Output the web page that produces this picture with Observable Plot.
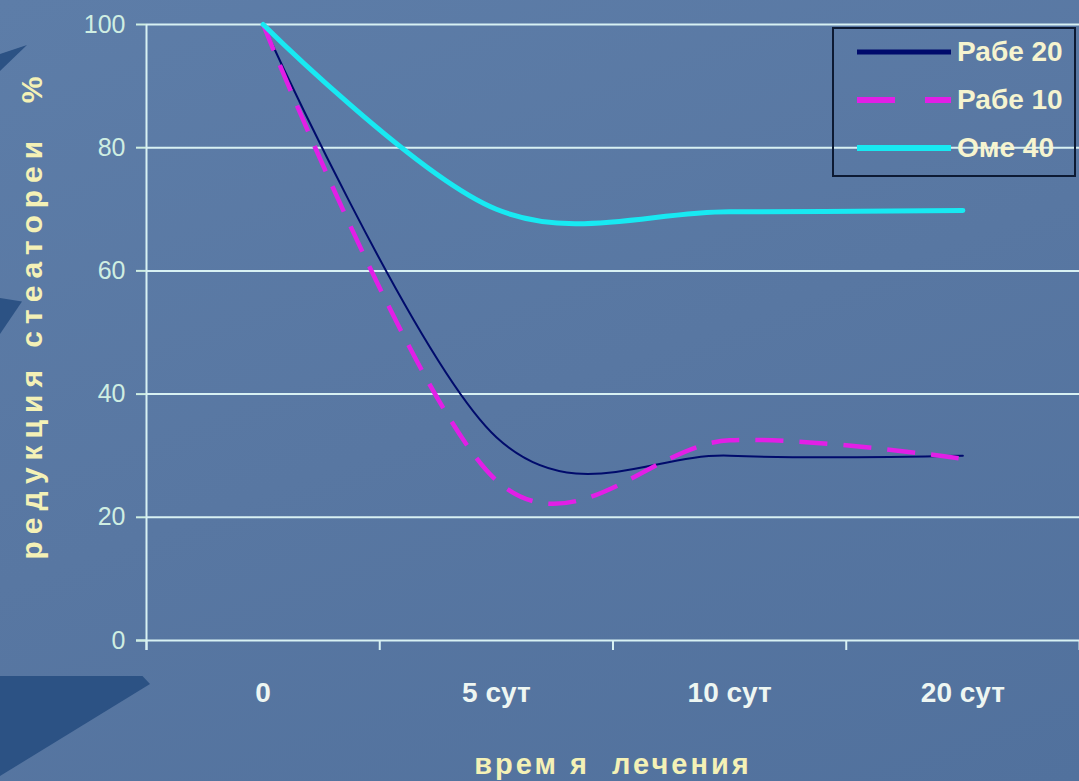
<!DOCTYPE html>
<html>
<head>
<meta charset="utf-8">
<script src="https://cdn.jsdelivr.net/npm/d3@7"></script>
<script src="https://cdn.jsdelivr.net/npm/@observablehq/plot@0.6"></script>
<style>
  html, body { margin: 0; padding: 0; }
  body { width: 1079px; height: 781px; overflow: hidden;
         background: linear-gradient(160deg, #5d7da8 0%, #5877a2 50%, #51719d 100%); }
  #wrap { position: relative; width: 1079px; height: 781px; }
  .wedge { position: absolute; background: #2c5284; }
  #chart { position: absolute; left: 0; top: 0; }
  #chart svg { background: transparent !important; }
  #chart text { font-family: "Liberation Sans", Arial, sans-serif; white-space: pre; }
  #legend { position: absolute; left: 832px; top: 27px; width: 240px; height: 146px;
            border: 2px solid #0d1a33; box-sizing: content-box; }
  #legend .row { position: absolute; left: 0; height: 40px; width: 240px; }
  #legend .row svg { position: absolute; left: 20px; top: 0; }
  #legend .row span { position: absolute; left: 123px; top: 0; line-height: 40px;
     font-family: "Liberation Sans", Arial, sans-serif;
     font-weight: bold; font-size: 28px; color: #f6f4cf; white-space: nowrap; }
</style>
</head>
<body>
<div id="wrap">
  <div class="wedge" style="left:0;top:45px;width:27px;height:26px;clip-path:polygon(0 35%,100% 0,0 100%);"></div>
  <div class="wedge" style="left:0;top:298px;width:22px;height:36px;clip-path:polygon(0 0,100% 10%,0 100%);"></div>
  <div class="wedge" style="left:0;top:676px;width:150px;height:100px;clip-path:polygon(0 0,95% 0,100% 8%,0 100%);"></div>
  <div id="chart"></div>
  <div id="legend"></div>
</div>
<script>
// ---- data ----
const categories = ["0", "5 сут", "10 сут", "20 сут"];
const seriesNames = ["Рабе 20", "Рабе 10", "Оме 40"];
const rabe20 = [100, 33, 30, 30];
const rabe10 = [100, 26, 32.5, 29.5];
const ome40 = [100, 70, 69.6, 69.8];
const yTicks = [0, 20, 40, 60, 80, 100];
const yTitle = "редукция стеатореи  %";
const xTitle = "врем я  лечения";

const colors = {"Рабе 20": "#000b6c", "Рабе 10": "#e21fe6", "Оме 40": "#18e9f2"};
const widths = {"Рабе 20": 2, "Рабе 10": 4.5, "Оме 40": 5};
const dashes = {"Рабе 20": null, "Рабе 10": "28,16", "Оме 40": null};

const toRows = (name, vals) => vals.map((v, i) => ({series: name, cat: categories[i], idx: i + 0.5, value: v}));
const seriesData = [toRows("Рабе 20", rabe20), toRows("Рабе 10", rabe10), toRows("Оме 40", ome40)];

const grid = "#d8f1f3";
const catCenters = categories.map((c, i) => i + 0.5);
const catBounds = d3.range(0, categories.length + 1);

const lineMarks = seriesData.map(rows => {
  const s = rows[0].series;
  const opts = {x: "idx", y: "value", stroke: colors[s], strokeWidth: widths[s], curve: "cardinal",
                strokeLinecap: "round"};
  if (dashes[s]) { opts.strokeDasharray = dashes[s]; opts.strokeLinecap = "butt"; }
  return Plot.line(rows, opts);
});

const chart = Plot.plot({
  width: 1079,
  height: 781,
  marginLeft: 146,
  marginRight: 0,
  marginTop: 24,
  marginBottom: 141,
  style: {background: "transparent", overflow: "visible"},
  x: {type: "linear", domain: [0, categories.length]},
  y: {domain: [0, 100]},
  marks: [
    Plot.ruleY(yTicks.filter(d => d > 0), {stroke: grid, strokeWidth: 2}),
    Plot.ruleY([0], {stroke: grid, strokeWidth: 2, insetLeft: -10}),
    Plot.ruleX([0], {stroke: grid, strokeWidth: 2, insetBottom: -10}),
    Plot.axisY({ticks: yTicks, tickSize: 10, tickPadding: 11, color: "#cfeee2", fontSize: 25,
                label: null, strokeWidth: 2}),
    Plot.axisX({ticks: catBounds, tickSize: 10, tickFormat: () => "", color: grid, strokeWidth: 2, label: null}),
    Plot.axisX({ticks: catCenters, tickSize: 0, tickPadding: 42, tickFormat: d => categories[Math.floor(d)],
                color: "#eef6f2", fontSize: 28, fontWeight: "bold", label: null}),
    ...lineMarks,
    Plot.text([yTitle], {frameAnchor: "left", textAnchor: "middle", lineAnchor: "middle", rotate: -90,
                         dx: -114, dy: -18, fill: "#f4f1b6", fontSize: 30, fontWeight: "bold"}),
    Plot.text([xTitle], {frameAnchor: "bottom", textAnchor: "middle", lineAnchor: "middle", dy: 124,
                         fill: "#f4f1b6", fontSize: 29, fontWeight: "bold"})
  ]
});
document.getElementById("chart").appendChild(chart);

// letter-spacing for the axis titles
d3.select(chart).selectAll("text")
  .filter(function() { return this.textContent === yTitle; })
  .style("letter-spacing", "7px");
d3.select(chart).selectAll("text")
  .filter(function() { return this.textContent === xTitle; })
  .style("letter-spacing", "3px");

// ---- legend (HTML overlay) ----
const legend = document.getElementById("legend");
seriesNames.forEach((s, i) => {
  const row = document.createElement("div");
  row.className = "row";
  row.style.top = (3 + i * 48) + "px";
  const dash = s === "Рабе 10" ? ' stroke-dasharray="38,30"' : "";
  const lw = s === "Рабе 20" ? 5 : 6;
  row.innerHTML = `<svg width="100" height="40"><line x1="3" y1="20" x2="97" y2="20" stroke="${colors[s]}" stroke-width="${lw}"${dash}/></svg><span>${s}</span>`;
  legend.appendChild(row);
});
</script>
</body>
</html>
